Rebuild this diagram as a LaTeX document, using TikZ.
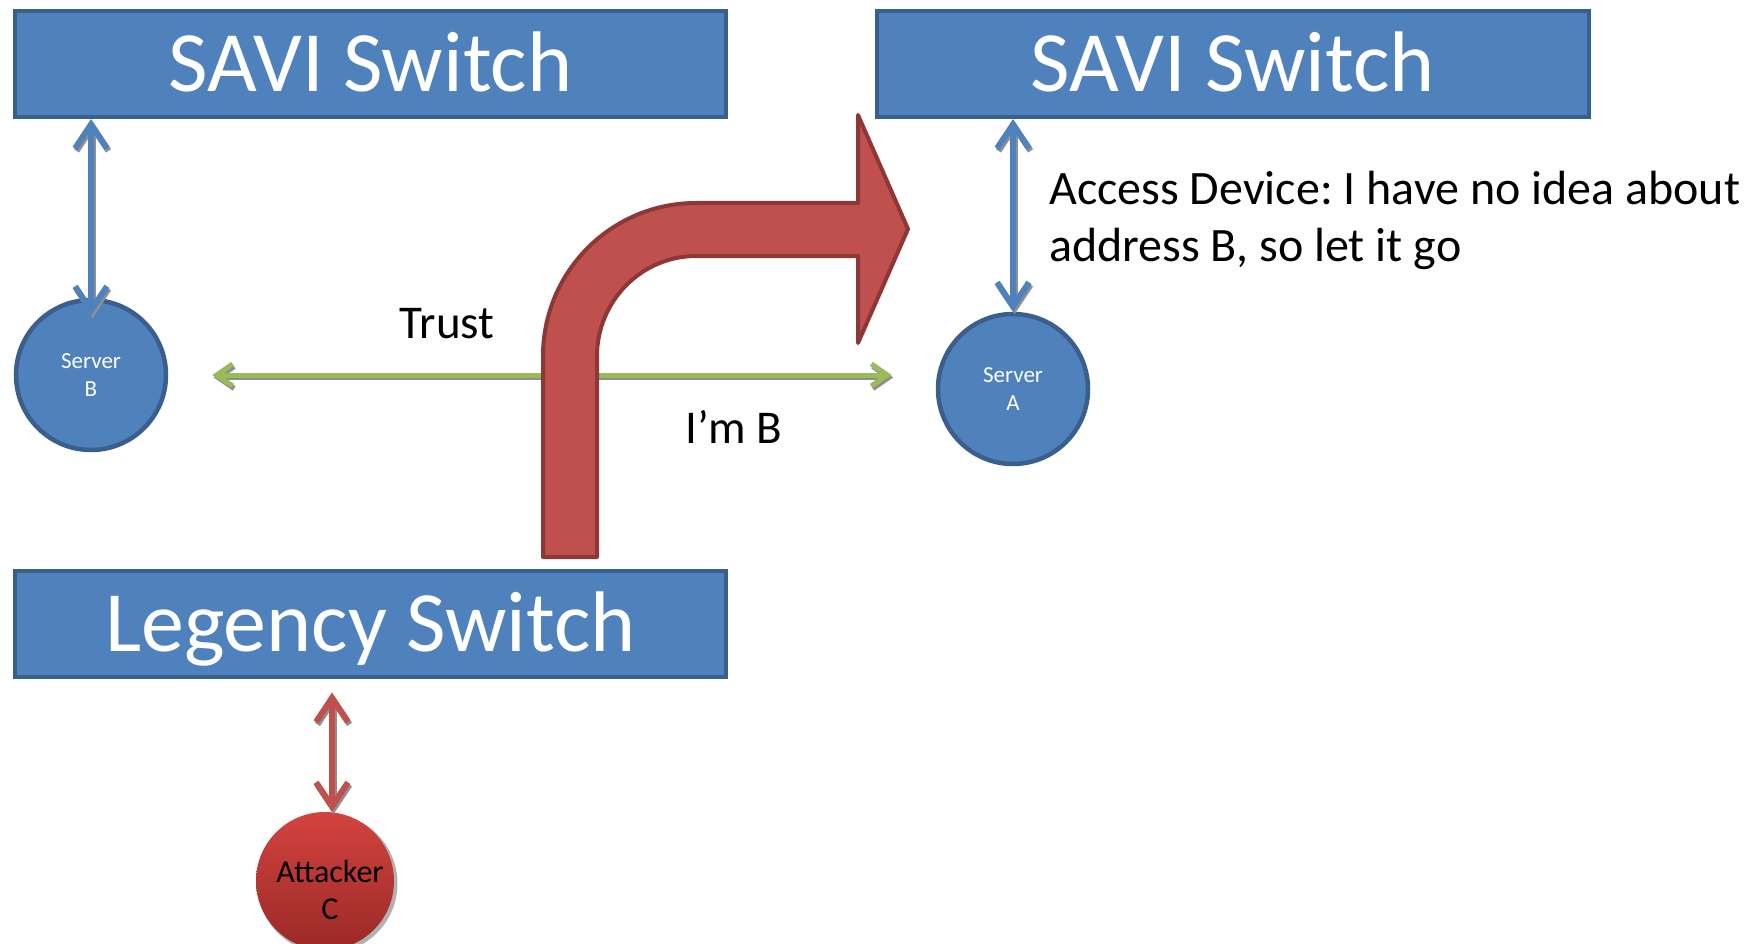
\documentclass[tikz,border=0pt]{standalone}
\usepackage{fontspec}
\setmainfont{Carlito}
\usetikzlibrary{arrows.meta}
\frenchspacing
\definecolor{boxblue}{HTML}{4F81BD}
\definecolor{boxedge}{HTML}{3A5F8C}
\definecolor{arrred}{HTML}{C0504D}
\definecolor{arredge}{HTML}{8C3836}
\definecolor{linkgreen}{HTML}{9BBB59}
\definecolor{attTop}{HTML}{D3433F}
\definecolor{attBot}{HTML}{9A2926}
\definecolor{shadegray}{HTML}{8F8F8F}
\begin{document}
\begin{tikzpicture}[x=1pt,y=-1pt,
  switchbox/.style={draw=boxedge, fill=boxblue, line width=4pt,
    minimum width=711pt, minimum height=106pt, inner sep=0pt, text=white,
    font=\fontsize{86}{100}\selectfont, text height=55pt, text depth=0pt},
  server/.style={circle, draw=boxedge, fill=boxblue, line width=4.5pt,
    minimum size=150pt, inner sep=0pt, text=white, align=center,
    font=\fontsize{23}{28}\selectfont},
  attacker/.style={circle, top color=attTop, bottom color=attBot,
    minimum size=138pt, inner sep=0pt},
  caption/.style={inner sep=0pt, font=\fontsize{47}{57}\selectfont},
  bigtip/.tip={Straight Barb[length=24pt,width=32pt]},
  smalltip/.tip={Straight Barb[length=16pt,width=22pt]},
  bluelink/.style={draw=boxblue, line width=6pt, line cap=round, bigtip-bigtip},
  redlink/.style={draw=arrred, line width=6pt, line cap=round, bigtip-bigtip},
  greenlink/.style={draw=linkgreen, line width=5pt, smalltip-smalltip},
  linkshadow/.style={draw=shadegray, transform canvas={shift={(1.5pt,-2.5pt)}}},
  bendarrow/.style={fill=arrred, draw=arredge, line width=4pt, line join=round}
]
\useasboundingbox (0,0) rectangle (1758,944);

% switches
\node[switchbox] (SWL) at (370.5,64) {SAVI Switch};
\node[switchbox, minimum width=712pt] (SWR) at (1233,64) {SAVI Switch};
\node[switchbox] (LEG) at (370.5,623.5) {Legency Switch};

% hosts
\node[server] (SB) at (91,375) {Server\\B};
\node[server] (SA) at (1013,389) {Server\\A};
\coordinate (Cc) at (325,881);
\fill[shadegray!70] ([shift={(2.5pt,-2.5pt)}]Cc) circle[radius=70pt];
\node[attacker] (C) at (Cc) {};
\node[inner sep=0pt, align=center, font=\fontsize{32}{37}\selectfont] (Ctext) at (330,890) {Attacker\\C};

% links
\draw[bluelink, linkshadow] (SWL.south -| SB.north) -- ([yshift=-18pt]SB.north);
\draw[bluelink] (SWL.south -| SB.north) -- ([yshift=-18pt]SB.north);
\draw[bluelink, linkshadow] (SWR.south -| SA.north) -- (SA.north);
\draw[bluelink] (SWR.south -| SA.north) -- (SA.north);
\draw[redlink, linkshadow] ([xshift=7pt,yshift=-14pt]LEG.south -| C.north) -- ([xshift=7pt]C.north);
\draw[redlink] ([xshift=7pt,yshift=-14pt]LEG.south -| C.north) -- ([xshift=7pt]C.north);
\draw[greenlink, linkshadow] ([xshift=44pt]SB.east) -- ([xshift=-44pt]SA.west |- SB.east);
\draw[greenlink] ([xshift=44pt]SB.east) -- ([xshift=-44pt]SA.west |- SB.east);

% bent spoofing arrow, over the trust link
\draw[bendarrow]
  (543,557) -- (543,356) .. controls (543,271.5) and (611.5,203) .. (696,203)
  -- (858,203) -- (858,115) -- (908,229) -- (858,343) -- (858,256)
  -- (696,256) .. controls (641.3,256) and (597,301.3) .. (597,356)
  -- (597,557) -- cycle;

% captions
\node[caption, anchor=base] (trust) at (447,338) {Trust};
\node[caption, anchor=base] (imb) at (734,443) {I’m B};
\node[caption, anchor=north west, align=left, font=\fontsize{48}{57}\selectfont] (access) at (1049,171)
  {Access Device: I have no idea about\\address B, so let it go};
\end{tikzpicture}
\end{document}
